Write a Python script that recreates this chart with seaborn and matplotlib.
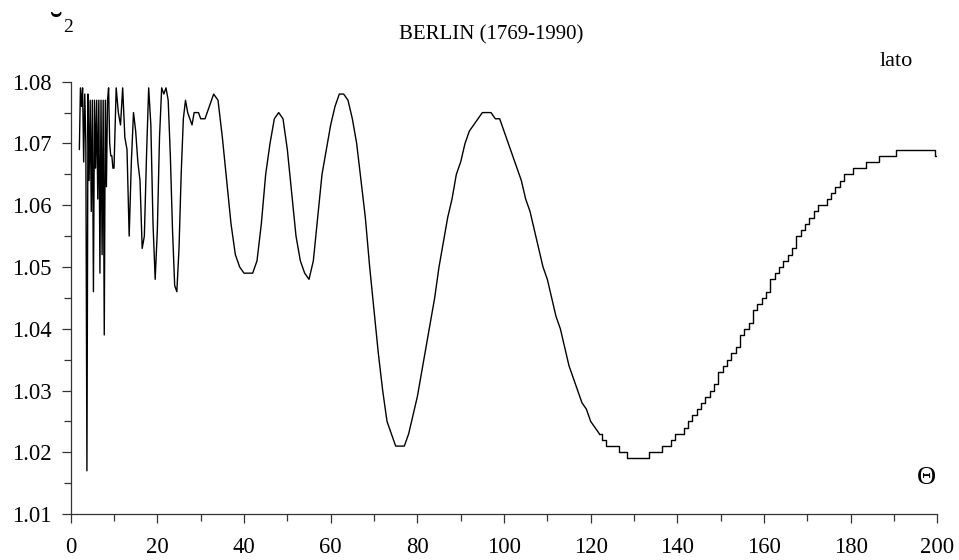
import numpy as np
import pandas as pd
import matplotlib
matplotlib.use("Agg")
import matplotlib.pyplot as plt
from matplotlib.ticker import MultipleLocator, FormatStrFormatter
import seaborn as sns

# g2 against the window parameter Theta, Berlin series 1769-1990.
# Fine sampling over the erratic short-window part, coarser further on.
theta_a = np.arange(2.0, 10.0, 0.25)
g_a = [1.069, 1.079, 1.076, 1.079, 1.067, 1.078, 1.070, 1.017,
       1.078, 1.064, 1.077, 1.059, 1.077, 1.046, 1.077, 1.066,
       1.077, 1.061, 1.077, 1.049, 1.077, 1.052, 1.077, 1.039,
       1.077, 1.063, 1.077, 1.079, 1.070, 1.068, 1.068, 1.066]

theta_b = np.arange(10.0, 30.5, 0.5)
g_b = [1.066, 1.079, 1.075, 1.073, 1.079, 1.071, 1.069, 1.055, 1.067, 1.075,
       1.072, 1.067, 1.064, 1.053, 1.055, 1.068, 1.079, 1.073, 1.057, 1.048,
       1.056, 1.071, 1.079, 1.078, 1.079, 1.077, 1.068, 1.056, 1.047, 1.046,
       1.053, 1.065, 1.074, 1.077, 1.075, 1.074, 1.073, 1.075, 1.075, 1.075,
       1.074]

theta_c = np.arange(31, 201)
g_c = [1.074, 1.076, 1.078, 1.077, 1.071, 1.064, 1.057, 1.052, 1.050, 1.049,
       1.049, 1.049, 1.051, 1.057, 1.065, 1.070, 1.074, 1.075, 1.074, 1.069,
       1.062, 1.055, 1.051, 1.049, 1.048, 1.051, 1.058, 1.065, 1.069, 1.073,
       1.076, 1.078, 1.078, 1.077, 1.074, 1.070, 1.064, 1.058, 1.050, 1.043,
       1.036, 1.030, 1.025, 1.023, 1.021, 1.021, 1.021, 1.023, 1.026, 1.029,
       1.033, 1.037, 1.041, 1.045, 1.050, 1.054, 1.058, 1.061, 1.065, 1.067,
       1.070, 1.072, 1.073, 1.074, 1.075, 1.075, 1.075, 1.074, 1.074, 1.072,
       1.070, 1.068, 1.066, 1.064, 1.061, 1.059, 1.056, 1.053, 1.050, 1.048,
       1.045, 1.042, 1.040, 1.037, 1.034, 1.032, 1.030, 1.028, 1.027, 1.025,
       1.024, 1.023, 1.022, 1.021, 1.021, 1.021, 1.020, 1.020, 1.019, 1.019,
       1.019, 1.019, 1.019, 1.020, 1.020, 1.020, 1.021, 1.021, 1.022, 1.023,
       1.023, 1.024, 1.025, 1.026, 1.027, 1.028, 1.029, 1.030, 1.031, 1.033,
       1.034, 1.035, 1.036, 1.037, 1.039, 1.040, 1.041, 1.043, 1.044, 1.045,
       1.046, 1.048, 1.049, 1.050, 1.051, 1.052, 1.053, 1.055, 1.056, 1.057,
       1.058, 1.059, 1.060, 1.060, 1.061, 1.062, 1.063, 1.064, 1.065, 1.065,
       1.066, 1.066, 1.066, 1.067, 1.067, 1.067, 1.068, 1.068, 1.068, 1.068,
       1.069, 1.069, 1.069, 1.069, 1.069, 1.069, 1.069, 1.069, 1.069, 1.068]

x_ticks = [0, 20, 40, 60, 80, 100, 120, 140, 160, 180, 200]
y_ticks = [1.01, 1.02, 1.03, 1.04, 1.05, 1.06, 1.07, 1.08]

title = "BERLIN (1769-1990)"
series_label = "lato"
x_label = "\u0398"

df = pd.DataFrame({
    "theta": np.concatenate([theta_a, theta_b, theta_c]),
    "g2": np.concatenate([g_a, g_b, g_c]),
})

# the slowly varying tail is drawn as a staircase of the 0.001-rounded values
step_from = 122
df_smooth = df[df["theta"] <= step_from]
df_steps = df[df["theta"] >= step_from]

sns.set_theme(style="ticks")
plt.rcParams["font.family"] = ["Liberation Serif", "DejaVu Serif"]

fig = plt.figure(figsize=(9.59, 5.6), dpi=100)
fig.patch.set_facecolor("white")
ax = fig.add_axes([0.0737, 0.0821, 0.9037, 0.7720])
ax.set_facecolor("white")

sns.lineplot(data=df_smooth, x="theta", y="g2", ax=ax, color="black",
             linewidth=1.0, estimator=None, sort=False)
sns.lineplot(data=df_steps, x="theta", y="g2", ax=ax, color="black",
             linewidth=1.0, estimator=None, sort=False, drawstyle="steps-mid")

ax.set_xlim(0, 200)
ax.set_ylim(1.01, 1.08)
ax.set_xticks(x_ticks)
ax.set_yticks(y_ticks)
ax.xaxis.set_minor_locator(MultipleLocator(10))
ax.yaxis.set_minor_locator(MultipleLocator(0.005))
ax.yaxis.set_major_formatter(FormatStrFormatter("%.2f"))
ax.tick_params(axis="both", which="major", length=6.5, width=0.9,
               color="#333333", labelsize=16.3, labelcolor="black")
ax.tick_params(axis="both", which="minor", length=5.2, width=0.9,
               color="#333333")
ax.tick_params(axis="y", which="major", pad=7)
ax.tick_params(axis="x", which="major", pad=10)
for side in ("top", "right"):
    ax.spines[side].set_visible(False)
for side in ("left", "bottom"):
    ax.spines[side].set_color("#333333")
    ax.spines[side].set_linewidth(0.9)
ax.set_xlabel("")
ax.set_ylabel("")
ax.grid(False)

fig.text(491 / 959, 1 - 35 / 560, title, ha="center", va="center",
         fontsize=15, color="black")
fig.text(880 / 959, 1 - 62 / 560, series_label, ha="left", va="center",
         fontsize=16, color="black")
fig.text(926 / 959, 1 - 478 / 560, x_label, ha="center", va="center",
         fontsize=19, color="black")
# axis symbol in the corner: breve mark with subscript 2
fig.text(56 / 959, 1 - 38 / 560, "\u02d8", ha="center", va="baseline",
         fontsize=27, color="black")
fig.text(68 / 959, 1 - 27 / 560, "2", ha="center", va="center",
         fontsize=14, color="black")

fig.savefig("out.png", dpi=100, facecolor="white")
